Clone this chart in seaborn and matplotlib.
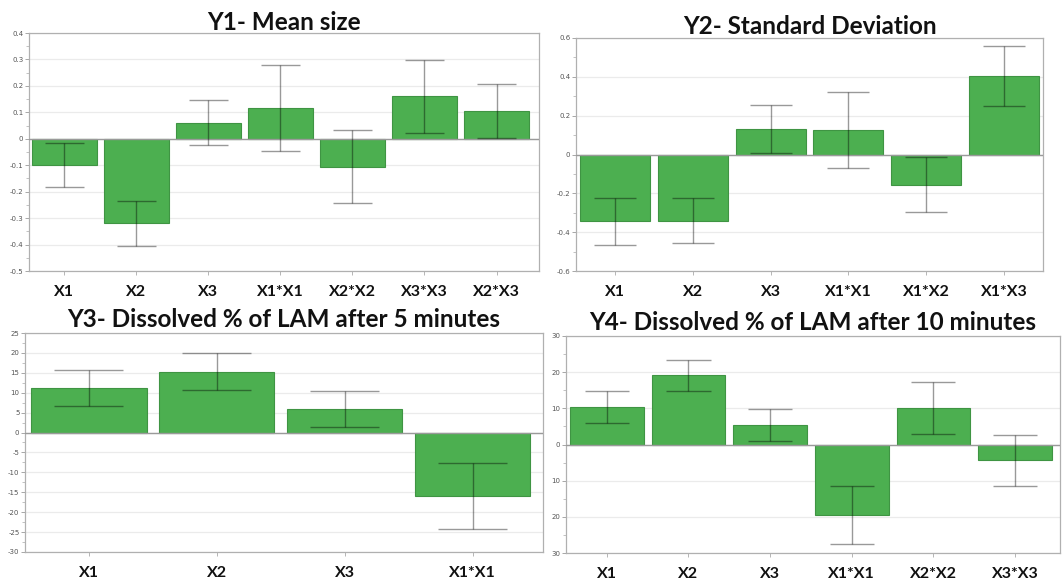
import numpy as np
import matplotlib
matplotlib.use("Agg")
import matplotlib.pyplot as plt
import seaborn as sns
from matplotlib.ticker import MultipleLocator, FixedLocator

sns.set_style("white")
plt.rcParams['font.family'] = ['DejaVu Sans']

# ---------------- data ----------------
y1_title = "Y1- Mean size"
y1_cats = ["X1", "X2", "X3", "X1*X1", "X2*X2", "X3*X3", "X2*X3"]
y1_vals = [-0.10, -0.32, 0.06, 0.115, -0.105, 0.16, 0.105]
y1_errs = [0.084, 0.085, 0.085, 0.163, 0.137, 0.138, 0.102]
y1_ticks = [-0.5, -0.4, -0.3, -0.2, -0.1, 0, 0.1, 0.2, 0.3, 0.4]
y1_ticklabels = ["-0.5", "-0.4", "-0.3", "-0.2", "-0.1", "0", "0.1", "0.2", "0.3", "0.4"]

y2_title = "Y2- Standard Deviation"
y2_cats = ["X1", "X2", "X3", "X1*X1", "X1*X2", "X1*X3"]
y2_vals = [-0.345, -0.34, 0.13, 0.125, -0.155, 0.405]
y2_errs = [0.121, 0.117, 0.123, 0.195, 0.14, 0.155]
y2_ticks = [-0.6, -0.4, -0.2, 0, 0.2, 0.4, 0.6]
y2_ticklabels = ["-0.6", "-0.4", "-0.2", "0", "0.2", "0.4", "0.6"]

y3_title = "Y3- Dissolved % of LAM after 5 minutes"
y3_cats = ["X1", "X2", "X3", "X1*X1"]
y3_vals = [11.2, 15.3, 5.9, -16.0]
y3_errs = [4.5, 4.6, 4.45, 8.3]
y3_ticks = [-30, -25, -20, -15, -10, -5, 0, 5, 10, 15, 20, 25]
y3_ticklabels = ["-30", "-25", "-20", "-15", "-10", "-5", "0", "5", "10", "15", "20", "25"]

y4_title = "Y4- Dissolved % of LAM after 10 minutes"
y4_cats = ["X1", "X2", "X3", "X1*X1", "X2*X2", "X3*X3"]
y4_vals = [10.4, 19.1, 5.4, -19.5, 10.0, -4.3]
y4_errs = [4.5, 4.2, 4.35, 8.1, 7.2, 7.05]
y4_ticks = [-30, -20, -10, 0, 10, 20, 30]
y4_ticklabels = ["30", "20", "10", "0", "10", "20", "30"]

W, H = 1062, 583
fig = plt.figure(figsize=(W / 100, H / 100), dpi=100)

def px_axes(l, t, r, b):
    return fig.add_axes([l / W, 1 - b / H, (r - l) / W, (b - t) / H])

BAR = "#4CAF50"
EDGE = "#3f9443"

def panel(ax, title, cats, vals, errs, ticks, ticklabels, xlim, minor, pad):
    sns.barplot(x=cats, y=vals, order=cats, ax=ax, color=BAR, saturation=1,
                edgecolor=EDGE, linewidth=0.8, width=0.9, errorbar=None)
    x = np.arange(len(cats))
    v = np.array(vals)
    e = np.array(errs)
    ax.errorbar(x, v, yerr=e, fmt="none", ecolor="black", alpha=0.4,
                elinewidth=1.0, capsize=0, zorder=4)
    ax.hlines(v + e, x - 0.27, x + 0.27, color="black", alpha=0.4, lw=1.0, zorder=4)
    ax.hlines(v - e, x - 0.27, x + 0.27, color="black", alpha=0.4, lw=1.0, zorder=4)
    ax.axhline(0, color="#9a9a9a", lw=1.0, zorder=3)
    ax.set_ylim(ticks[0], ticks[-1])
    ax.set_xlim(*xlim)
    ax.yaxis.set_major_locator(FixedLocator(ticks))
    ax.set_yticklabels(ticklabels)
    ax.yaxis.set_minor_locator(MultipleLocator(minor))
    ax.grid(axis="y", which="major", color="#ebebeb", lw=0.9, zorder=0)
    ax.set_axisbelow(True)
    ax.tick_params(axis="y", which="major", length=3, width=0.6, color="#999999",
                   labelsize=5, labelcolor="#555555", pad=1, left=True)
    ax.tick_params(axis="y", which="minor", length=2, width=0.5, color="#aaaaaa", left=True)
    ax.tick_params(axis="x", which="major", length=3, width=0.6, color="#aaaaaa",
                   pad=7, bottom=True)
    for lab in ax.get_xticklabels():
        lab.set_fontfamily("Lato")
        lab.set_fontweight("bold")
        lab.set_fontsize(11.5)
        lab.set_color("#111111")
    for s in ax.spines.values():
        s.set_color("#b0b0b0")
        s.set_linewidth(0.9)
    ax.set_xlabel("")
    ax.set_ylabel("")
    ax.set_title(title, fontsize=17.5, fontweight="bold", family="Lato",
                 color="#111111", pad=pad)

ax1 = px_axes(29, 33, 539, 271)
panel(ax1, y1_title, y1_cats, y1_vals, y1_errs, y1_ticks, y1_ticklabels,
      (-0.49, 6.59), 0.05, 2)

ax2 = px_axes(576, 38, 1043, 271)
panel(ax2, y2_title, y2_cats, y2_vals, y2_errs, y2_ticks, y2_ticklabels,
      (-0.5, 5.5), 0.1, 3)

ax3 = px_axes(25, 333, 543, 552)
panel(ax3, y3_title, y3_cats, y3_vals, y3_errs, y3_ticks, y3_ticklabels,
      (-0.5, 3.55), 2.5, 4)

ax4 = px_axes(566, 336, 1060, 553)
panel(ax4, y4_title, y4_cats, y4_vals, y4_errs, y4_ticks, y4_ticklabels,
      (-0.5, 5.55), 5, 4)

fig.savefig("out.png", dpi=100, facecolor="white")
